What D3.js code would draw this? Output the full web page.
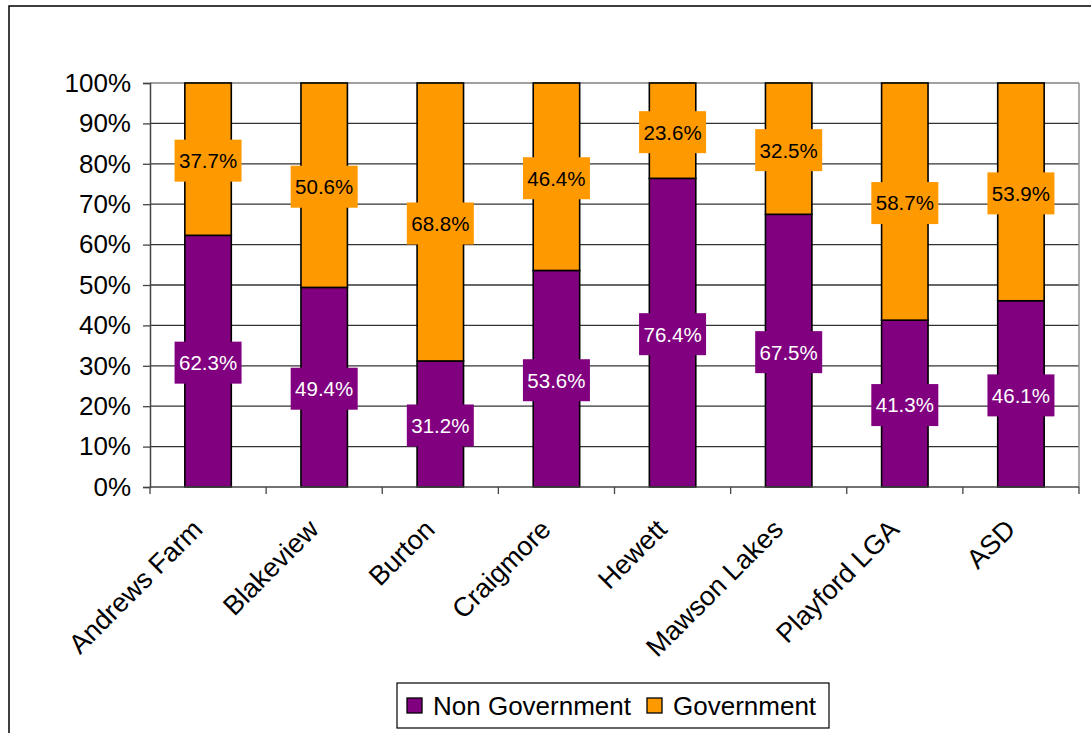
<!DOCTYPE html>
<html>
<head>
<meta charset="utf-8">
<script src="https://cdn.jsdelivr.net/npm/d3@7/dist/d3.min.js"></script>
<style>
  html, body { margin: 0; padding: 0; background: #fff; }
  svg { display: block; font-family: "Liberation Sans", Arial, sans-serif; }
</style>
</head>
<body>
<svg id="chart" width="1091" height="733"></svg>
<script>
// Share of enrolments by sector, per area
const categories = ["Andrews Farm", "Blakeview", "Burton", "Craigmore", "Hewett", "Mawson Lakes", "Playford LGA", "ASD"];
const nonGovernment = [62.3, 49.4, 31.2, 53.6, 76.4, 67.5, 41.3, 46.1];
const government = [37.7, 50.6, 68.8, 46.4, 23.6, 32.5, 58.7, 53.9];
const seriesNames = ["Non Government", "Government"];
const seriesColors = ["#800080", "#FF9900"];
const labelColors = ["#ffffff", "#000000"];
const yTicks = [0, 10, 20, 30, 40, 50, 60, 70, 80, 90, 100];

const svg = d3.select("#chart");

// outer chart frame
svg.append("rect")
  .attr("x", 9).attr("y", 6)
  .attr("width", 1200).attr("height", 800)
  .attr("fill", "#fff").attr("stroke", "#000").attr("stroke-width", 1.5);

const plot = { left: 150, right: 1079, top: 83, bottom: 487 };

const x = d3.scaleBand()
  .domain(categories)
  .range([plot.left, plot.right])
  .paddingInner(0.6)
  .paddingOuter(0.3);

const y = d3.scaleLinear().domain([0, 100]).range([plot.bottom, plot.top]);

// horizontal gridlines
svg.append("g")
  .selectAll("line")
  .data(yTicks.filter(d => d > 0))
  .join("line")
  .attr("x1", plot.left).attr("x2", plot.right)
  .attr("y1", d => y(d)).attr("y2", d => y(d))
  .attr("stroke", d => d === 100 ? "#808080" : "#333")
  .attr("stroke-width", 1.3);

// right edge of the plot area
svg.append("line")
  .attr("x1", plot.right).attr("x2", plot.right)
  .attr("y1", plot.top).attr("y2", plot.bottom)
  .attr("stroke", "#909090").attr("stroke-width", 1.5);

// stacked data
const rows = categories.map((c, i) => ({ cat: c, ng: nonGovernment[i], g: government[i] }));
const stack = d3.stack().keys(["ng", "g"])(rows);

const bars = svg.append("g");
stack.forEach((layer, si) => {
  bars.append("g")
    .selectAll("rect")
    .data(layer)
    .join("rect")
    .attr("x", d => x(d.data.cat))
    .attr("width", x.bandwidth())
    .attr("y", d => y(d[1]))
    .attr("height", d => y(d[0]) - y(d[1]))
    .attr("fill", seriesColors[si])
    .attr("stroke", "#000")
    .attr("stroke-width", 1.6);
});

// axes
const yAxis = svg.append("g")
  .attr("transform", `translate(${plot.left},0)`)
  .call(d3.axisLeft(y).tickValues(yTicks).tickFormat(d => d + "%").tickSize(7).tickPadding(12));
yAxis.select(".domain").attr("stroke", "#444").attr("stroke-width", 1.5);
yAxis.selectAll(".tick line").attr("stroke", "#444").attr("stroke-width", 1.3);
yAxis.selectAll("text").attr("font-size", 26).attr("fill", "#000")
  .attr("font-family", "'Liberation Sans', Arial, sans-serif");

// category axis with ticks at category boundaries
svg.append("line")
  .attr("x1", plot.left).attr("x2", plot.right)
  .attr("y1", plot.bottom).attr("y2", plot.bottom)
  .attr("stroke", "#444").attr("stroke-width", 1.5);
const boundaries = d3.range(categories.length + 1).map(i => plot.left + i * x.step());
svg.append("g")
  .selectAll("line")
  .data(boundaries)
  .join("line")
  .attr("x1", d => d).attr("x2", d => d)
  .attr("y1", plot.bottom).attr("y2", plot.bottom + 7)
  .attr("stroke", "#444").attr("stroke-width", 1.3);

svg.append("g")
  .selectAll("text")
  .data(categories)
  .join("text")
  .attr("transform", d => `translate(${x(d) + x.bandwidth() / 2 - 4},531) rotate(-45)`)
  .attr("text-anchor", "end")
  .attr("font-size", 27)
  .attr("fill", "#000")
  .text(d => d);

// value labels on boxes
stack.forEach((layer, si) => {
  const g = svg.append("g");
  layer.forEach(d => {
    const val = si === 0 ? d.data.ng : d.data.g;
    const cx = x(d.data.cat) + x.bandwidth() / 2;
    const cy = (y(d[0]) + y(d[1])) / 2 + 1.5;
    g.append("rect")
      .attr("x", cx - 33.5).attr("y", cy - 21)
      .attr("width", 67).attr("height", 42)
      .attr("fill", seriesColors[si]);
    g.append("text")
      .attr("x", cx).attr("y", cy)
      .attr("dy", "0.36em")
      .attr("text-anchor", "middle")
      .attr("font-size", 20.5)
      .attr("fill", labelColors[si])
      .text(val.toFixed(1) + "%");
  });
});

// legend
const legend = svg.append("g");
legend.append("rect")
  .attr("x", 397).attr("y", 683).attr("width", 432).attr("height", 45)
  .attr("fill", "#fff").attr("stroke", "#000").attr("stroke-width", 1.2);
const legendX = [407, 647];
seriesNames.forEach((name, i) => {
  legend.append("rect")
    .attr("x", legendX[i]).attr("y", 698).attr("width", 15).attr("height", 15)
    .attr("fill", seriesColors[i]).attr("stroke", "#000").attr("stroke-width", 1.3);
  legend.append("text")
    .attr("x", legendX[i] + 26).attr("y", 706)
    .attr("dy", "0.36em")
    .attr("font-size", 26)
    .attr("fill", "#000")
    .text(name);
});
</script>
</body>
</html>
